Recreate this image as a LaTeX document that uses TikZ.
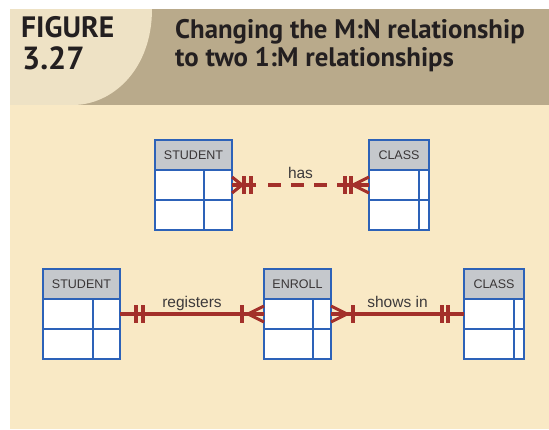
\documentclass[tikz,border=0pt]{standalone}
\usepackage{fontspec}
\setmainfont{Liberation Sans}
\newfontfamily\headfont{PT Sans}
\usetikzlibrary{calc}

\definecolor{bandtan}{HTML}{B9AA8B}
\definecolor{panellight}{HTML}{EEE2C5}
\definecolor{bodycream}{HTML}{F9E9C5}
\definecolor{tableblue}{HTML}{2D62B8}
\definecolor{headgray}{HTML}{C5C8CC}
\definecolor{relred}{HTML}{A3302A}
\definecolor{inkdark}{HTML}{231F20}

% entity table: #1 name, #2 left, #3 top, #4 width, #5 label, #6 divider offset from the right
\newcommand\ertable[6]{%
  \node[erhead, minimum width=#4, anchor=north west] (#1-h) at (#2,#3) {#5};
  \node[errow, minimum width=#4, anchor=north] (#1-a) at (#1-h.south) {};
  \node[errow, minimum width=#4, anchor=north] (#1-b) at (#1-a.south) {};
  \draw[erline] ([xshift=-#6]#1-a.north east) -- ([xshift=-#6]#1-b.south east);
}
% crow's foot at an entity edge: #1 edge point, #2 direction (1 or -1), #3 length
\newcommand\crowfoot[3]{%
  \begin{scope}[shift={(#1)}, xscale=#2]
    \draw[relline] (0,-8) -- (#3,0) -- (0,8) (0,0) -- (#3,0);
  \end{scope}}
% cross bar on a connector: #1 edge point, #2 direction, #3 distance from the edge
\newcommand\crossbar[3]{%
  \begin{scope}[shift={(#1)}, xscale=#2]
    \draw[relline] (#3,-9) -- (#3,9);
  \end{scope}}
% solid stub from an entity edge: #1 edge point, #2 direction, #3 length
\newcommand\relstub[3]{%
  \begin{scope}[shift={(#1)}, xscale=#2]
    \draw[relline] (0,0) -- (#3,0);
  \end{scope}}

\begin{document}
\begin{tikzpicture}[x=1pt, y=-1pt,
  erline/.style={draw=tableblue, line width=1.8pt},
  erhead/.style={erline, fill=headgray, minimum height=30pt, inner sep=0pt, outer sep=0pt,
    font=\fontsize{12.5}{12.5}\selectfont, text=inkdark!90},
  errow/.style={erline, fill=white, minimum height=30pt, inner sep=0pt, outer sep=0pt},
  relline/.style={draw=relred, line width=3.1pt},
  rellabel/.style={font=\fontsize{15.5}{15.5}\selectfont, text=inkdark!88, anchor=base, inner sep=0pt, yshift=7pt},
  headtxt/.style={text=inkdark, anchor=base west, inner sep=0pt}
]
\useasboundingbox (0,0) rectangle (549,429);
\fill[white] (0,0) rectangle (549,429);

% header band and body
\fill[bandtan] (10,9) rectangle (549,105);
\fill[panellight] (10,9) -- (152,9) .. controls (152,70) and (112,105) .. (73,105) -- (10,105) -- cycle;
\fill[bodycream] (10,105) rectangle (549,429);

% heading text
\node[headtxt, font=\headfont\bfseries\fontsize{29.5}{29.5}\selectfont] (figword) at (21,37) {FIGURE};
\node[headtxt, font=\headfont\bfseries\fontsize{32}{32}\selectfont] (fignum) at (22,69) {3.27};
\node[headtxt, font=\headfont\bfseries\fontsize{26.8}{26.8}\selectfont] (titleA) at (175,38) {Changing the M:N relationship};
\node[headtxt, font=\headfont\bfseries\fontsize{26.8}{26.8}\selectfont] (titleB) at (175,66) {to two 1:M relationships};

% upper diagram: M:N
\ertable{stuA}{155}{140}{77pt}{STUDENT}{28pt}
\ertable{clsA}{369}{140}{60pt}{CLASS}{10pt}

\path (stuA-a.east) -- (clsA-a.west) node[rellabel, midway] (hasLbl) {has};
\draw[relline, dash pattern=on 13pt off 10pt]
  ([xshift=36pt]stuA-a.east) -- ([xshift=-38pt]clsA-a.west);
\relstub{stuA-a.east}{1}{24}
\crowfoot{stuA-a.east}{1}{10}
\crossbar{stuA-a.east}{1}{12}
\crossbar{stuA-a.east}{1}{19}
\relstub{clsA-a.west}{-1}{32}
\crowfoot{clsA-a.west}{-1}{16}
\crossbar{clsA-a.west}{-1}{18}
\crossbar{clsA-a.west}{-1}{24}

% lower diagram: two 1:M relationships through ENROLL
\ertable{stuB}{43}{269}{77pt}{STUDENT}{27pt}
\ertable{enr}{264}{269}{67pt}{ENROLL}{18pt}
\ertable{clsB}{464}{269}{60pt}{CLASS}{10pt}

\draw[relline] (stuB-a.east) -- (enr-a.west) node[rellabel, midway] {registers};
\crossbar{stuB-a.east}{1}{16}
\crossbar{stuB-a.east}{1}{23}
\crowfoot{enr-a.west}{-1}{16}
\crossbar{enr-a.west}{-1}{22}

\draw[relline] (enr-a.east) -- (clsB-a.west) node[rellabel, midway] {shows in};
\crowfoot{enr-a.east}{1}{16}
\crossbar{enr-a.east}{1}{22}
\crossbar{clsB-a.west}{-1}{16}
\crossbar{clsB-a.west}{-1}{22}
\end{tikzpicture}
\end{document}
